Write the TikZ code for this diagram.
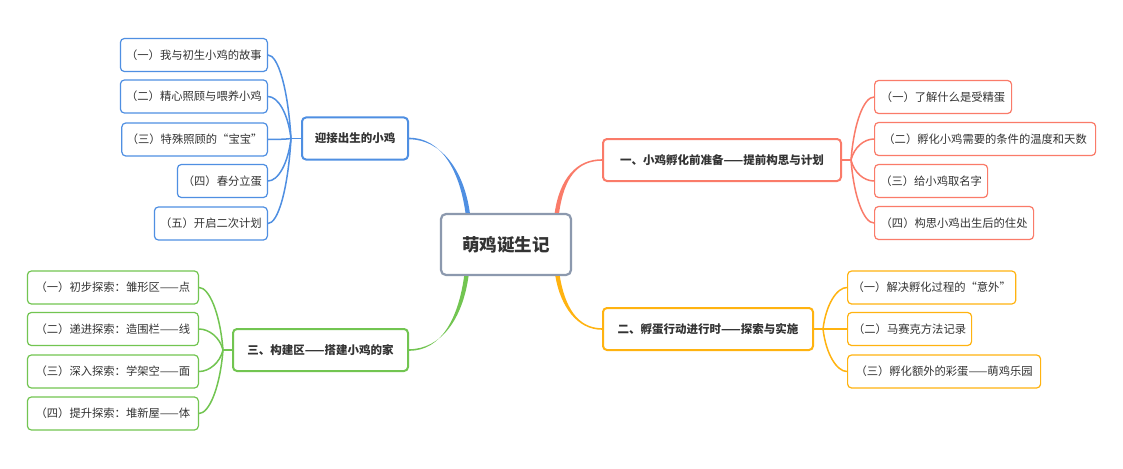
\documentclass[tikz,border=0pt]{standalone}
\usepackage{fontspec}
\setmainfont{Noto Sans CJK SC}
\usetikzlibrary{calc}
\definecolor{cb}{HTML}{4F8FE2}
\definecolor{cr}{HTML}{FA7B69}
\definecolor{co}{HTML}{FFB310}
\definecolor{cg}{HTML}{72C551}
\definecolor{cc}{HTML}{8C99AE}
\definecolor{txt}{HTML}{333333}
\tikzset{
  kid/.style={draw, rounded corners=4pt, line width=1.2pt, fill=white, minimum height=33pt,
    inner xsep=5pt, inner ysep=0pt, font=\fontsize{11.3}{13}\selectfont, text=txt},
  mainbox/.style={draw, rounded corners=4pt, line width=2pt, fill=white, minimum height=42pt,
    inner xsep=5pt, inner ysep=0pt, font=\bfseries\fontsize{11.5}{13}\selectfont, text=txt},
  link/.style={line width=1.5pt}
}
\begin{document}
\begin{tikzpicture}[x=1pt,y=-1pt]
\useasboundingbox[fill=white] (0,0) rectangle (1123,468);

% center
\node[draw=cc, rounded corners=5pt, line width=2.2pt, fill=white, minimum width=130pt, minimum height=61pt,
  font=\bfseries\fontsize{17.5}{20}\selectfont, text=txt] (c) at (506,244.5) {萌鸡诞生记};

% blue branch
\node[mainbox, draw=cb, minimum width=106pt] (b) at (355,138.5) {迎接出生的小鸡};
\node[kid, draw=cb, minimum width=147pt, anchor=east] (b1) at (268,55) {（一）我与初生小鸡的故事};
\node[kid, draw=cb, minimum width=147pt, anchor=east] (b2) at (268,96.5) {（二）精心照顾与喂养小鸡};
\node[kid, draw=cb, minimum width=133pt, anchor=east] (b3) at (268,139.5) {（三）特殊照顾的“宝宝”};
\node[kid, draw=cb, minimum width=90pt, anchor=east] (b4) at (268,181) {（四）春分立蛋};
\node[kid, draw=cb, minimum width=113pt, anchor=east] (b5) at (268,223.5) {（五）开启二次计划};

% red branch
\node[mainbox, draw=cr, minimum width=238pt] (r) at (722,160) {一、小鸡孵化前准备——提前构思与计划};
\node[kid, draw=cr, minimum width=137pt, anchor=west] (r1) at (874,97) {（一）了解什么是受精蛋};
\node[kid, draw=cr, minimum width=221pt, anchor=west] (r2) at (874,139) {（二）孵化小鸡需要的条件的温度和天数};
\node[kid, draw=cr, minimum width=113pt, anchor=west] (r3) at (874,181) {（三）给小鸡取名字};
\node[kid, draw=cr, minimum width=159pt, anchor=west] (r4) at (874,223) {（四）构思小鸡出生后的住处};

% green branch
\node[mainbox, draw=cg, minimum width=175pt] (g) at (320.5,350) {三、构建区——搭建小鸡的家};
\node[kid, draw=cg, minimum width=171pt, anchor=east] (g1) at (199,287.5) {（一）初步探索：雏形区——点};
\node[kid, draw=cg, minimum width=171pt, anchor=east] (g2) at (199,329) {（二）递进探索：造围栏——线};
\node[kid, draw=cg, minimum width=171pt, anchor=east] (g3) at (199,371.5) {（三）深入探索：学架空——面};
\node[kid, draw=cg, minimum width=171pt, anchor=east] (g4) at (199,413.5) {（四）提升探索：堆新屋——体};

% orange branch
\node[mainbox, draw=co, minimum width=210pt] (o) at (708,329) {二、孵蛋行动进行时——探索与实施};
\node[kid, draw=co, minimum width=155pt, anchor=west] (o1) at (847,287.5) {（一）解决孵化过程的“意外”};
\node[kid, draw=co, minimum width=124pt, anchor=west] (o2) at (847,329) {（二）马赛克方法记录};
\node[kid, draw=co, minimum width=193pt, anchor=west] (o3) at (847,371.5) {（三）孵化额外的彩蛋——萌鸡乐园};

% tapered main connectors
\coordinate (sb) at ($(c.north west)!0.21!(c.north east)$);
\coordinate (sr) at ($(c.north west)!0.885!(c.north east)$);
\coordinate (sg) at ($(c.south west)!0.2!(c.south east)$);
\coordinate (so) at ($(c.south west)!0.89!(c.south east)$);
\fill[cb] ([xshift=-2.2pt]sb) .. controls +(-6,-43) and +(32,0) .. ([yshift=0.8pt]b.east)
  -- ([yshift=-0.8pt]b.east) .. controls +(32,0) and +(-6,-43) .. ([xshift=2.2pt]sb) -- cycle;
\fill[cr] ([xshift=-2.2pt]sr) .. controls +(5,-35) and +(-25,0) .. ([yshift=0.8pt]r.west)
  -- ([yshift=-0.8pt]r.west) .. controls +(-25,0) and +(5,-35) .. ([xshift=2.2pt]sr) -- cycle;
\fill[cg] ([xshift=-2.2pt]sg) .. controls +(-6,43) and +(32,0) .. ([yshift=-0.8pt]g.east)
  -- ([yshift=0.8pt]g.east) .. controls +(32,0) and +(-6,43) .. ([xshift=2.2pt]sg) -- cycle;
\fill[co] ([xshift=-2.2pt]so) .. controls +(5,30) and +(-25,0) .. ([yshift=-0.8pt]o.west)
  -- ([yshift=0.8pt]o.west) .. controls +(-25,0) and +(5,30) .. ([xshift=2.2pt]so) -- cycle;

% child connectors
\coordinate (bj) at ([xshift=-10pt]b.west);
\draw[link,cb] (b.west) -- (bj);
\foreach \k in {b1,b2,b3,b4,b5}
  \draw[link,cb] (bj) .. controls ([xshift=-3pt]$(bj)!0.6!(bj |- \k.east)$) and ([xshift=10pt]\k.east) .. (\k.east);
\coordinate (rj) at ([xshift=9pt]r.east);
\draw[link,cr] (r.east) -- (rj);
\foreach \k in {r1,r2,r3,r4}
  \draw[link,cr] (rj) .. controls ([xshift=3pt]$(rj)!0.6!(rj |- \k.west)$) and ([xshift=-10pt]\k.west) .. (\k.west);
\coordinate (gj) at ([xshift=-9pt]g.west);
\draw[link,cg] (g.west) -- (gj);
\foreach \k in {g1,g2,g3,g4}
  \draw[link,cg] (gj) .. controls ([xshift=-3pt]$(gj)!0.6!(gj |- \k.east)$) and ([xshift=10pt]\k.east) .. (\k.east);
\coordinate (oj) at ([xshift=9pt]o.east);
\draw[link,co] (o.east) -- (oj);
\foreach \k in {o1,o2,o3}
  \draw[link,co] (oj) .. controls ([xshift=3pt]$(oj)!0.6!(oj |- \k.west)$) and ([xshift=-10pt]\k.west) .. (\k.west);
\end{tikzpicture}
\end{document}
